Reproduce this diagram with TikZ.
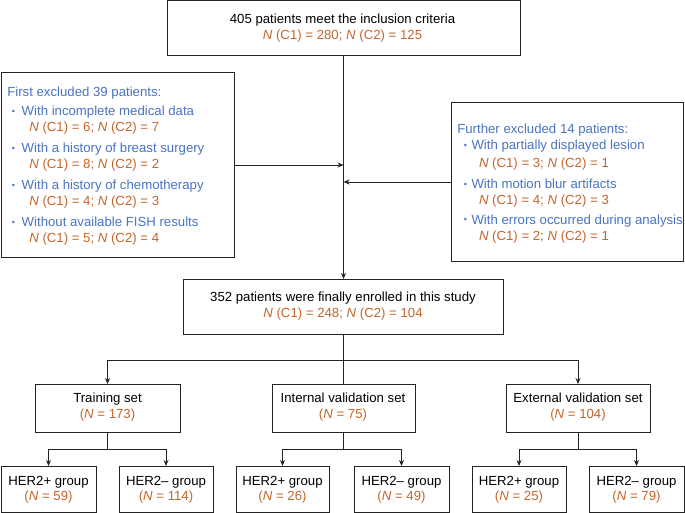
\documentclass[tikz,border=0pt]{standalone}
\usepackage{fontspec}
\setmainfont{Liberation Sans}
\usetikzlibrary{arrows.meta}
\definecolor{ordc}{RGB}{196,102,44}
\definecolor{bluec}{RGB}{74,116,196}
\definecolor{linec}{RGB}{35,35,35}
\newcommand{\NN}{\textit{N}}
\newcommand{\cc}[2]{\NN\ (C1) = #1; \NN\ (C2) = #2}
\newcommand{\bul}{{\fontsize{9}{9}\selectfont\textbullet}}
\begin{document}
\begin{tikzpicture}[x=1pt,y=-1pt,
  box/.style={draw=linec, line width=1pt, rectangle, inner sep=0pt, outer sep=0pt},
  txt/.style={inner sep=0pt, outer sep=0pt, font=\fontsize{13.2}{15}\selectfont},
  ctxt/.style={txt, anchor=base},
  ltxt/.style={txt, anchor=base west},
  btxt/.style={inner sep=0pt, outer sep=0pt, anchor=center, text=bluec},
  arr/.style={draw=linec, line width=0.9pt, -{Stealth[length=6pt,width=5pt]}},
  ln/.style={draw=linec, line width=0.9pt}]
\useasboundingbox (0,0) rectangle (685,513);
\fill[white] (0,0) rectangle (685,513);

% ---------- boxes ----------
\node[box, minimum width=353pt, minimum height=55pt] (top) at (343.5,28.5) {};
\node[box, minimum width=233pt, minimum height=184pt] (lx) at (117.5,165) {};
\node[box, minimum width=232pt, minimum height=158pt] (rx) at (567,182) {};
\node[box, minimum width=320pt, minimum height=55pt] (enr) at (343.5,306.5) {};
\node[box, minimum width=145pt, minimum height=48pt] (tr) at (107.5,408) {};
\node[box, minimum width=143pt, minimum height=48pt] (iv) at (343.5,408) {};
\node[box, minimum width=144pt, minimum height=48pt] (ev) at (578,408) {};
\node[box, minimum width=95pt, minimum height=46pt] (tp) at (48.5,489) {};
\node[box, minimum width=94pt, minimum height=46pt] (tn) at (166,489) {};
\node[box, minimum width=93pt, minimum height=46pt] (ip) at (282.5,489) {};
\node[box, minimum width=95pt, minimum height=46pt] (in) at (401.5,489) {};
\node[box, minimum width=94pt, minimum height=46pt] (ep) at (519,489) {};
\node[box, minimum width=95pt, minimum height=46pt] (en) at (636.5,489) {};

% ---------- texts ----------
\node[ctxt] (t1) at (342.5,23.3) {405 patients meet the inclusion criteria};
\node[ctxt, text=ordc] (t2) at (342.5,39.3) {\cc{280}{125}};

\node[ltxt, text=bluec] (l0) at (7.3,96.7) {First excluded 39 patients:};
\node[btxt] (lb1) at (13.5,112) {\bul};
\node[ltxt, text=bluec] (l1) at (21.7,115.3) {With incomplete medical data};
\node[ltxt, text=ordc] (l1n) at (29.3,131.7) {\cc{6}{7}};
\node[btxt] (lb2) at (13.5,149.4) {\bul};
\node[ltxt, text=bluec] (l2) at (21.7,152.7) {With a history of breast surgery};
\node[ltxt, text=ordc] (l2n) at (29.3,168.3) {\cc{8}{2}};
\node[btxt] (lb3) at (13.5,186) {\bul};
\node[ltxt, text=bluec] (l3) at (21.7,189.3) {With a history of chemotherapy};
\node[ltxt, text=ordc] (l3n) at (29.3,205.7) {\cc{4}{3}};
\node[btxt] (lb4) at (13.5,223.4) {\bul};
\node[ltxt, text=bluec] (l4) at (21.7,226.7) {Without available FISH results};
\node[ltxt, text=ordc] (l4n) at (29.3,242.7) {\cc{5}{4}};

\node[ltxt, text=bluec] (r0) at (457.3,133.3) {Further excluded 14 patients:};
\node[btxt] (rb1) at (465.5,146.7) {\bul};
\node[ltxt, text=bluec] (r1) at (471.5,150) {With partially displayed lesion};
\node[ltxt, text=ordc] (r1n) at (479,167.3) {\cc{3}{1}};
\node[btxt] (rb2) at (465.5,185) {\bul};
\node[ltxt, text=bluec] (r2) at (471.5,188.3) {With motion blur artifacts};
\node[ltxt, text=ordc] (r2n) at (479,204.3) {\cc{4}{3}};
\node[btxt] (rb3) at (465.5,220.7) {\bul};
\node[ltxt, text=bluec] (r3) at (471.5,224) {With errors occurred during analysis};
\node[ltxt, text=ordc] (r3n) at (479,240.7) {\cc{2}{1}};

\node[ctxt] (e1) at (343,301.7) {352 patients were finally enrolled in this study};
\node[ctxt, text=ordc] (e2) at (343,317.3) {\cc{248}{104}};

\node[ctxt] (tr1) at (107.5,402.5) {Training set};
\node[ctxt, text=ordc] (tr2) at (107.5,418) {(\NN\ = 173)};
\node[ctxt] (iv1) at (343,402.5) {Internal validation set};
\node[ctxt, text=ordc] (iv2) at (343,418) {(\NN\ = 75)};
\node[ctxt] (ev1) at (578,402.5) {External validation set};
\node[ctxt, text=ordc] (ev2) at (578,418) {(\NN\ = 104)};

\node[ctxt] (tp1) at (48.5,485) {HER2+ group};
\node[ctxt, text=ordc] (tp2) at (48.5,500.7) {(\NN\ = 59)};
\node[ctxt] (tn1) at (166,485) {HER2– group};
\node[ctxt, text=ordc] (tn2) at (166,500.7) {(\NN\ = 114)};
\node[ctxt] (ip1) at (282.5,485) {HER2+ group};
\node[ctxt, text=ordc] (ip2) at (282.5,500.7) {(\NN\ = 26)};
\node[ctxt] (in1) at (401.5,485) {HER2– group};
\node[ctxt, text=ordc] (in2) at (401.5,500.7) {(\NN\ = 49)};
\node[ctxt] (ep1) at (519,485) {HER2+ group};
\node[ctxt, text=ordc] (ep2) at (519,500.7) {(\NN\ = 25)};
\node[ctxt] (en1) at (636.5,485) {HER2– group};
\node[ctxt, text=ordc] (en2) at (636.5,500.7) {(\NN\ = 79)};

% ---------- connectors ----------
\draw[arr] (top.south) -- (top.south |- enr.north);
\draw[arr] (lx.east) -- (lx.east -| top.south);
\draw[arr] (rx.west) -- (rx.west -| top.south);

\path (enr.south) ++(0,26) coordinate (dj);
\draw[ln] (enr.south) -- (iv.north);
\draw[arr] (dj) -| (tr.north);
\draw[arr] (dj) -| (ev.north);

\path (tr.south) ++(0,17) coordinate (trj);
\draw[ln] (tr.south) -- (trj);
\draw[arr] (trj) -| (tp.north);
\draw[arr] (trj) -| (tn.north);

\path (iv.south) ++(0,17) coordinate (ivj);
\draw[ln] (iv.south) -- (ivj);
\draw[arr] (ivj) -| (ip.north);
\draw[arr] (ivj) -| (in.north);

\path (ev.south) ++(0,17) coordinate (evj);
\draw[ln] (ev.south) -- (evj);
\draw[arr] (evj) -| (ep.north);
\draw[arr] (evj) -| (en.north);
\end{tikzpicture}
\end{document}
